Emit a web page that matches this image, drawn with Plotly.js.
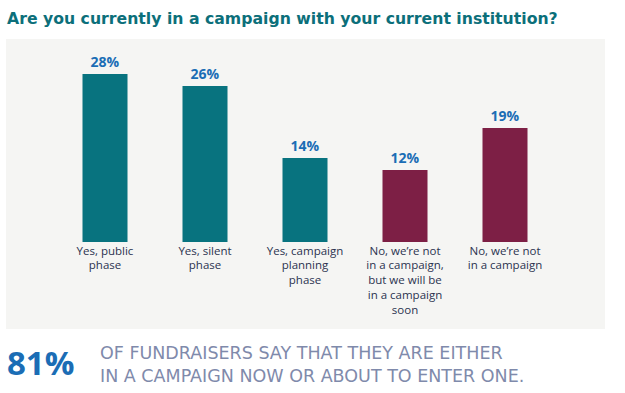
<!DOCTYPE html>
<html>
<head>
<meta charset="utf-8">
<script src="https://cdn.plot.ly/plotly-3.0.1.min.js"></script>
<style>
html,body{margin:0;padding:0;background:#fff;}
#chart{width:625px;height:393px;}
</style>
</head>
<body>
<div id="chart"></div>
<script>
const categories = [
  "Yes, public<br>phase",
  "Yes, silent<br>phase",
  "Yes, campaign<br>planning<br>phase",
  "No, we’re not<br>in a campaign,<br>but we will be<br>in a campaign<br>soon",
  "No, we’re not<br>in a campaign"
];
const values = [28, 26, 14, 12, 19];
const barColors = ["#08737f", "#08737f", "#08737f", "#7d1f45", "#7d1f45"];
const labels = values.map(v => v + "%");

const L = 55, T = 62, W = 500, H = 180;
const px = x => (x - L) / W;
const py = y => (T + H - y) / H;

const trace = {
  type: "bar",
  x: categories,
  y: values,
  text: labels,
  textposition: "outside",
  cliponaxis: false,
  textfont: {family: "Open Sans, sans-serif", size: 14, color: "#1b6db5", weight: 700},
  marker: {color: barColors},
  hoverinfo: "none"
};

const layout = {
  width: 625, height: 393,
  margin: {l: L, r: 625 - L - W, t: T, b: 393 - T - H},
  paper_bgcolor: "#ffffff",
  plot_bgcolor: "rgba(0,0,0,0)",
  bargap: 0.55,
  showlegend: false,
  font: {family: "Open Sans, sans-serif"},
  title: {
    text: "<b>Are you currently in a campaign with your current institution?</b>",
    font: {family: "DejaVu Sans, sans-serif", size: 15.7, color: "#0c6f7a"},
    x: 7 / 625, xanchor: "left", xref: "container",
    y: 1 - 19 / 393, yanchor: "middle", yref: "container"
  },
  xaxis: {
    range: [-0.5, 4.5],
    showgrid: false, zeroline: false, showline: false,
    ticks: "", ticklen: 0,
    tickfont: {family: "Open Sans, sans-serif", size: 11.5, color: "#2b3350"},
    fixedrange: true
  },
  yaxis: {
    range: [0, 30],
    visible: false,
    fixedrange: true
  },
  shapes: [{
    type: "rect", xref: "paper", yref: "paper", layer: "below",
    x0: px(6), x1: px(605), y0: py(329), y1: py(39),
    fillcolor: "#f5f5f3", line: {width: 0}
  }],
  annotations: [
    {
      xref: "paper", yref: "paper",
      x: px(5), y: py(362), xanchor: "left", yanchor: "middle",
      text: "<b>81%</b>", showarrow: false,
      font: {family: "Open Sans, sans-serif", size: 33, color: "#1b6db5"}
    },
    {
      xref: "paper", yref: "paper",
      x: px(98), y: py(364), xanchor: "left", yanchor: "middle", align: "left",
      text: "OF FUNDRAISERS SAY THAT THEY ARE EITHER<br>IN A CAMPAIGN NOW OR ABOUT TO ENTER ONE.",
      showarrow: false,
      font: {family: "DejaVu Sans, sans-serif", size: 17.5, color: "#7f8aab"}
    }
  ]
};

Plotly.newPlot("chart", [trace], layout, {displayModeBar: false, staticPlot: true});
</script>
</body>
</html>
